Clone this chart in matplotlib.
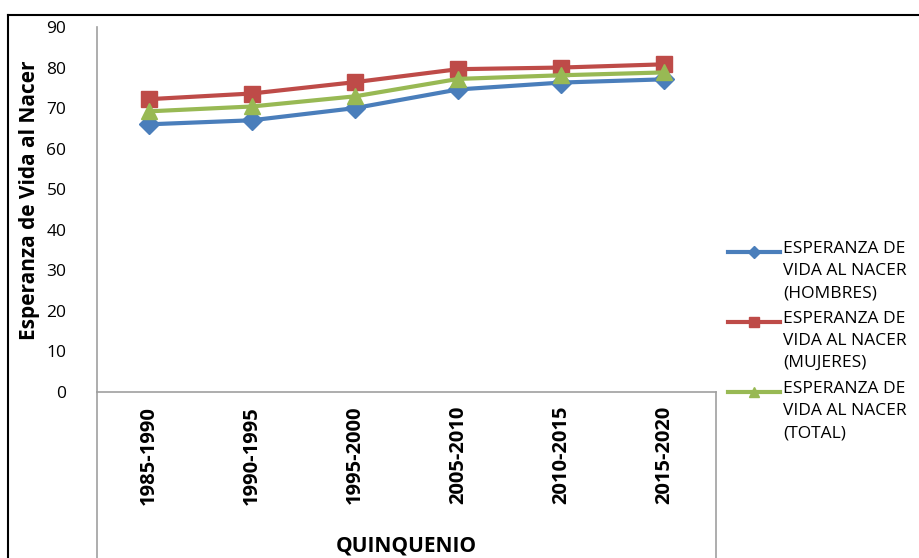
import matplotlib
matplotlib.use("Agg")
import matplotlib.pyplot as plt
from matplotlib.lines import Line2D

plt.rcParams["font.family"] = ["Open Sans", "DejaVu Sans"]

periodos = ["1985-1990", "1990-1995", "1995-2000", "2005-2010", "2010-2015", "2015-2020"]
hombres = [66.0, 67.0, 70.0, 74.6, 76.3, 77.1]
mujeres = [72.2, 73.6, 76.4, 79.6, 80.0, 80.8]
total = [69.2, 70.4, 72.9, 77.2, 78.1, 78.8]

etiquetas = [
    "ESPERANZA DE\nVIDA AL NACER\n(HOMBRES)",
    "ESPERANZA DE\nVIDA AL NACER\n(MUJERES)",
    "ESPERANZA DE\nVIDA AL NACER\n(TOTAL)",
]
series = [
    (hombres, "#4A7EBB", "D", 10.5),
    (mujeres, "#BE4B48", "s", 11),
    (total, "#98B954", "^", 12),
]

W, H = 920, 558
fig = plt.figure(figsize=(9.2, 5.58), dpi=100)
ax = fig.add_axes([97 / W, 1 - 392 / H, (716 - 97) / W, (392 - 27) / H])

x = list(range(len(periodos)))
for vals, color, mk, ms in series:
    ax.plot(x, vals, color=color, lw=3, marker=mk, ms=ms, zorder=3)

ax.set_xlim(-0.5, len(periodos) - 0.5)
ax.set_ylim(0, 90)
ax.set_yticks(range(0, 91, 10))
ax.set_xticks(x)
ax.tick_params(axis="both", length=0)
ax.tick_params(axis="x", pad=10, labelsize=14.5)
ax.tick_params(axis="y", labelsize=12.5, pad=22)
ax.set_xticklabels(periodos, rotation=90, fontsize=14.5, fontweight="bold")
for s in ("top", "right"):
    ax.spines[s].set_visible(False)
for s in ("left", "bottom"):
    ax.spines[s].set_color("#A0A0A0")
    ax.spines[s].set_linewidth(1.2)

fig.text(30 / W, 1 - 200 / H, "Esperanza de Vida al Nacer", rotation=90,
         ha="center", va="center", fontsize=15, fontweight="bold")
fig.text(406 / W, 1 - 546 / H, "QUINQUENIO", ha="center", va="center",
         fontsize=15, fontweight="bold")

# extension of plot-area lines below the axis
fig.add_artist(Line2D([97 / W, 97 / W], [0, 1 - 392 / H], color="#A0A0A0", lw=1.2))
fig.add_artist(Line2D([716 / W, 716 / W], [0, 1 - 392 / H], color="#A0A0A0", lw=1.2))

# outer chart border (top / left)
fig.add_artist(Line2D([8 / W, 1], [1 - 15 / H, 1 - 15 / H], color="black", lw=1.5))
fig.add_artist(Line2D([8 / W, 8 / W], [0, 1 - 15 / H], color="black", lw=1.5))

# manual legend
for i, ((vals, color, mk, ms), lab) in enumerate(zip(series, etiquetas)):
    ytop = 252 + i * 70
    yf = 1 - ytop / H
    fig.add_artist(Line2D([728 / W, 780 / W], [yf, yf], color=color, lw=3))
    fig.add_artist(Line2D([754 / W], [yf], color=color, marker=mk, ms=ms * 0.6))
    fig.text(783 / W, 1 - (ytop - 11) / H, lab, ha="left", va="top",
             fontsize=12.5, linespacing=1.5)

fig.savefig("out.png", dpi=100)
